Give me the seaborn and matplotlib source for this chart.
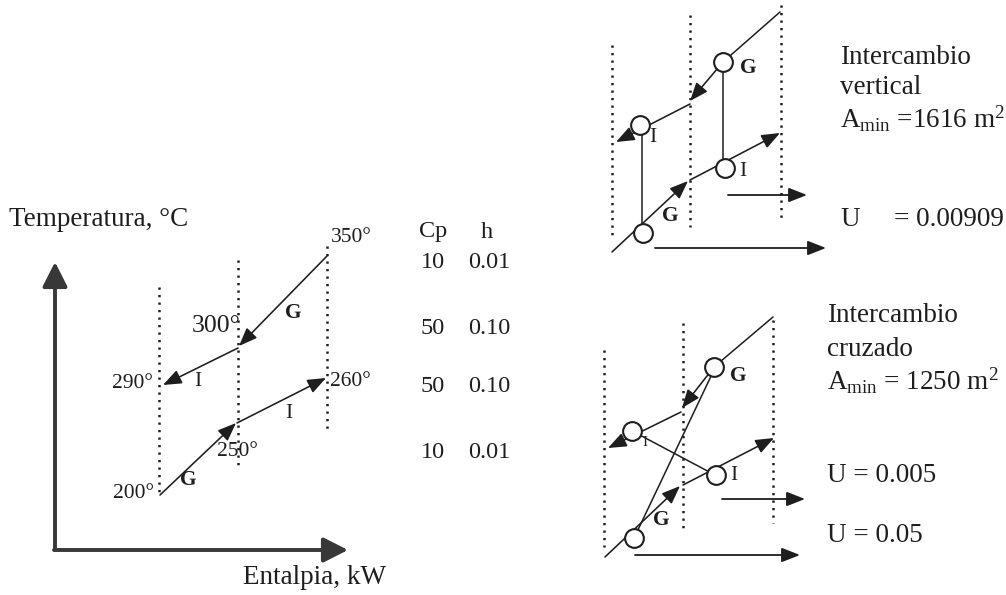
import matplotlib
matplotlib.use("Agg")
import matplotlib.pyplot as plt
import seaborn as sns
import pandas as pd

# ---------------- data (values shown in the diagram) ----------------
hot_temps = ["350°", "300°", "290°"]
cold_temps = ["200°", "250°", "260°"]
stream_names = ["G", "I", "I", "G"]
cp_values = ["10", "50", "50", "10"]
h_values = ["0.01", "0.10", "0.10", "0.01"]
table_header = ["Cp", "h"]
axis_labels = ["Temperatura, °C", "Entalpia, kW"]
vertical_text = ["Intercambio", "vertical", "A$_{\\mathrm{min}}$ =1616 m$^{2}$"]
vertical_u = ["U", "= 0.00909"]
crossed_text = ["Intercambio", "cruzado", "A$_{\\mathrm{min}}$ = 1250 m$^{2}$"]
crossed_u = ["U = 0.005", "U = 0.05"]

# ---------------- style ----------------
sns.set_theme(style="white")
plt.rcParams["font.family"] = ["Liberation Serif", "DejaVu Serif"]
plt.rcParams["mathtext.fontset"] = "custom"
plt.rcParams["mathtext.rm"] = "Liberation Serif"
plt.rcParams["mathtext.it"] = "Liberation Serif:italic"

INK = "#1e1e1e"
AXC = "#383838"
BIG = 19.5

fig = plt.figure(figsize=(10.06, 5.95), dpi=100)
fig.patch.set_facecolor("white")
ax = fig.add_axes([0, 0, 1, 1])
ax.set_xlim(0, 1006)
ax.set_ylim(595, 0)
ax.axis("off")


def lines(segs, lw=1.1, color=INK):
    rows = []
    for i, (p, q) in enumerate(segs):
        rows.append({"x": p[0], "y": p[1], "seg": i})
        rows.append({"x": q[0], "y": q[1], "seg": i})
    sns.lineplot(data=pd.DataFrame(rows), x="x", y="y", units="seg", estimator=None,
                 sort=False, ax=ax, color=color, lw=lw, legend=False, zorder=2)


def dotted(xs_spans):
    rows = []
    for i, (x, y0, y1) in enumerate(xs_spans):
        rows += [{"x": x, "y": y0, "seg": i}, {"x": x, "y": y1, "seg": i}]
    sns.lineplot(data=pd.DataFrame(rows), x="x", y="y", units="seg", estimator=None,
                 sort=False, ax=ax, color=INK, lw=1.8, legend=False, zorder=1)
    for l in ax.get_lines()[-len(xs_spans):]:
        l.set_linestyle((0, (0.9, 2.1)))


def arrow(p0, p1, lw=1.15, hl=0.56, hw=0.22, ms=20, color=INK):
    ax.annotate("", xy=p1, xytext=p0,
                arrowprops=dict(arrowstyle=f"-|>,head_length={hl},head_width={hw}",
                                lw=lw, color=color, shrinkA=0, shrinkB=0,
                                mutation_scale=ms), zorder=3)


def circles(pts):
    ax.plot([p[0] for p in pts], [p[1] for p in pts], "o", ms=13.5, mfc="white",
            mec=INK, mew=1.5, zorder=4, ls="none")


def txt(x, y, s, size=15.5, ha="left", weight="normal"):
    ax.text(x, y, s, fontsize=size, ha=ha, va="center", color=INK, fontweight=weight)


# ---------------- left diagram ----------------
arrow((55, 550), (55, 262), lw=2.8, hl=0.75, hw=0.38, ms=20, color=AXC)
arrow((54, 550), (348, 550), lw=2.8, hl=0.75, hw=0.38, ms=20, color=AXC)
txt(9, 220, axis_labels[0], size=BIG)
txt(243, 577, axis_labels[1], size=BIG)

dotted([(159, 287, 497), (238, 260, 470), (327, 246, 432)])
arrow((327, 256), (239, 346))   # hot G
arrow((238, 348), (163, 385))   # hot I
arrow((160, 495), (236, 423))   # cold G
arrow((237, 423), (326, 378))   # cold I

txt(331, 238, hot_temps[0])
txt(192, 326, hot_temps[1], size=18.5)
txt(112, 383, hot_temps[2])
txt(113, 493, cold_temps[0])
txt(217, 451, cold_temps[1])
txt(330, 381, cold_temps[2])
txt(293, 313, stream_names[0], size=15.5, ha="center", weight="bold")
txt(198, 381, stream_names[1], size=15.5, ha="center")
txt(289, 413, stream_names[2], size=15.5, ha="center")
txt(188, 480, stream_names[3], size=15.5, ha="center", weight="bold")

# table
txt(433, 232, table_header[0], size=17.5, ha="center")
txt(487, 232, table_header[1], size=17.5, ha="center")
for yy, c, h in zip([263, 329, 386, 452], cp_values, h_values):
    txt(433, yy, c, size=17.5, ha="center")
    txt(489, yy, h, size=17.5, ha="center")

# ---------------- upper right: vertical exchange ----------------
dotted([(612, 45, 240), (690, 15, 227), (781, 5, 218)])
lines([((780, 12), (723, 62))])
arrow((723, 62), (690, 101))
arrow((690, 104), (616, 142))
arrow((612, 252), (688, 181))
arrow((690, 180), (780, 133))
lines([((723, 66), (723, 164)), ((642, 128), (642, 229))])
circles([(723, 62), (640, 125), (643, 233), (725, 168)])
txt(748, 68, "G", size=15.5, ha="center", weight="bold")
txt(653, 137, "I", size=15.5, ha="center")
txt(743, 171, "I", size=15.5, ha="center")
txt(670, 216, "G", size=15.5, ha="center", weight="bold")
arrow((728, 195), (807, 195), lw=1.3)
arrow((655, 248), (826, 248), lw=1.3)

txt(840, 57, vertical_text[0], size=BIG)
txt(840, 88, vertical_text[1], size=BIG)
txt(840, 119, vertical_text[2], size=BIG)
txt(840, 220, vertical_u[0], size=BIG)
txt(894, 220, vertical_u[1], size=BIG)

# ---------------- lower right: crossed exchange ----------------
dotted([(604, 350, 547), (683, 323, 530), (773, 320, 523)])
lines([((773, 317), (714, 367))])
arrow((714, 367), (682, 408))
arrow((681, 412), (608, 448))
arrow((605, 557), (680, 486))
arrow((683, 485), (774, 438))
lines([((713, 372), (636, 534)), ((636, 433), (715, 475))])
circles([(714, 367), (632, 431), (634, 538), (716, 475)])
txt(738, 376, "G", size=15.5, ha="center", weight="bold")
txt(645, 443, "I", size=11, ha="center")
txt(734, 476, "I", size=15.5, ha="center")
txt(661, 520, "G", size=15.5, ha="center", weight="bold")
arrow((722, 499), (805, 499), lw=1.3)
arrow((635, 555), (800, 555), lw=1.3)

txt(827, 316, crossed_text[0], size=BIG)
txt(827, 349, crossed_text[1], size=BIG)
txt(827, 381, crossed_text[2], size=BIG)
txt(827, 475, crossed_u[0], size=BIG)
txt(827, 536, crossed_u[1], size=BIG)

fig.savefig("out.png", dpi=100, facecolor="white")
